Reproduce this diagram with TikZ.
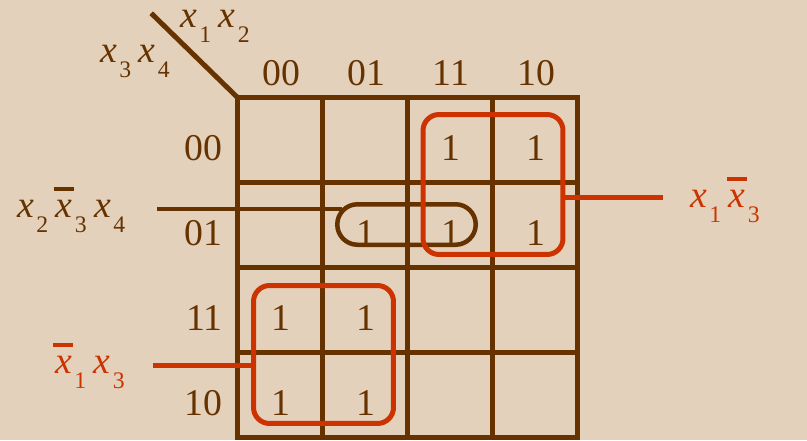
\documentclass[tikz,border=0pt]{standalone}
\usepackage{fontspec}
\setmainfont{Liberation Serif}
\usepackage{tikz}
\usetikzlibrary{shapes.misc, positioning, calc}
\definecolor{kbrown}{RGB}{102,51,0}
\definecolor{kred}{RGB}{204,51,0}
\definecolor{kpaper}{RGB}{227,209,187}
\newcommand{\kfont}{\fontsize{21.5}{24}\selectfont}
\newcommand{\ksub}[1]{\hspace{0.06em}\raisebox{-0.4em}{\fontsize{13.5}{15}\selectfont #1}}
\newcommand{\kx}[1]{\textit{x}\ksub{#1}}
\newcommand{\kxbar}[1]{\makebox[0pt][l]{\hspace{-0.05em}\rule[0.7em]{0.52em}{0.09em}}\textit{x}\ksub{#1}}
\tikzset{
  gridline/.style={line width=0.1cm,color=kbrown,line cap=rect},
  groupbox/.style={rectangle,draw=kred,line width=0.1cm,rounded corners=0.32cm,inner sep=0pt},
  pairloop/.style={rounded rectangle,draw=kbrown,line width=0.09cm,inner sep=0pt},
  redline/.style={line width=0.1cm,color=kred},
  brownline/.style={line width=0.09cm,color=kbrown},
  lbl/.style={font=\kfont,inner sep=0pt,anchor=base west},
  one/.style={font=\kfont,text=kbrown,inner sep=0pt,anchor=base}
}

\begin{document}
\begin{tikzpicture}[x=0.02cm, y=-0.02cm]
  % ── Paper ─────────────────────────────────────────────────────────────────
  \fill[kpaper] (0,0) rectangle (807,440);
  \useasboundingbox (0,0) rectangle (807,440);

  % ── Map grid (4 x 4 cells of 85 px) ───────────────────────────────────────
  \coordinate (corner) at (237,97);
  \foreach \i in {0,...,4} {
    \draw[gridline] (237+85*\i,97) -- (237+85*\i,437);
    \draw[gridline] (237,97+85*\i) -- (577,97+85*\i);
  }
  \draw[gridline] (153,15) -- (corner);

  % ── Variable labels of the corner ────────────────────────────────────────
  \node[lbl, text=kbrown] (hx12) at (180,27) {\kx{1}\hspace{0.2em}\kx{2}};
  \node[lbl, text=kbrown] (hx34) at (100,62) {\kx{3}\hspace{0.2em}\kx{4}};

  % ── Column and row codes ─────────────────────────────────────────────────
  \foreach \c [count=\k from 0] in {00,01,11,10} {
    \node[one] (col\c) at (281+85*\k,85) {\c};
    \node[one, anchor=base east] (row\c) at (223,160+85*\k) {\c};
  }

  % ── Cells holding a 1 (column/row index) ─────────────────────────────────
  \foreach \c/\r in {2/0,3/0,1/1,2/1,3/1,0/2,1/2,0/3,1/3}
    \node[one] (m\c\r) at (281+85*\c,160+85*\r) {1};

  % ── Groups ───────────────────────────────────────────────────────────────
  \node[pairloop, minimum width=2.77cm, minimum height=0.81cm] (pair) at (406.5,224.5) {};
  \node[groupbox, minimum width=2.8cm, minimum height=2.8cm] (quadR) at (493,184.5) {};
  \node[groupbox, minimum width=2.8cm, minimum height=2.76cm] (quadL) at (323.5,354.5) {};

  % ── Group terms and their leaders ────────────────────────────────────────
  \node[lbl, text=kbrown] (tPair) at (17,217) {\kx{2}\hspace{0.2em}\kxbar{3}\hspace{0.2em}\kx{4}};
  \node[lbl, text=kred] (tLeft) at (55,373) {\kxbar{1}\hspace{0.2em}\kx{3}};
  \node[lbl, text=kred] (tRight) at (690,207) {\kx{1}\hspace{0.2em}\kxbar{3}};

  \coordinate (pairEnd) at (157,209);
  \draw[brownline] (pairEnd) -- (pairEnd -| pair.166);
  \coordinate (rightEnd) at (663,197);
  \draw[redline] (quadR.east |- rightEnd) -- (rightEnd);
  \coordinate (leftEnd) at (153,365);
  \draw[redline] (leftEnd) -- (leftEnd -| quadL.west);
\end{tikzpicture}
\end{document}
